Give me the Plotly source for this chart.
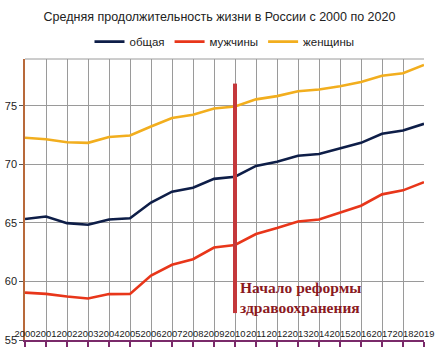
import plotly.graph_objects as go

years = list(range(2000, 2020))
overall = [65.34, 65.55, 64.98, 64.84, 65.29, 65.40, 66.74, 67.67, 68.00, 68.76,
           68.95, 69.87, 70.23, 70.74, 70.88, 71.36, 71.84, 72.62, 72.90, 73.46]
men = [59.05, 58.94, 58.72, 58.55, 58.92, 58.94, 60.51, 61.43, 61.90, 62.90,
       63.12, 64.05, 64.56, 65.12, 65.29, 65.90, 66.47, 67.44, 67.78, 68.48]
women = [72.28, 72.14, 71.89, 71.84, 72.34, 72.47, 73.23, 73.96, 74.24, 74.77,
         74.95, 75.55, 75.83, 76.25, 76.39, 76.67, 77.04, 77.57, 77.79, 78.49]
series_names = ["общая", "мужчины", "женщины"]
title_text = "Средняя продолжительность жизни в России с 2000 по 2020"
reform_year = 2010
reform_span = [57.3, 76.9]
reform_label = "<b>Начало реформы<br>здравоохранения</b>"
y_ticks = [55, 60, 65, 70, 75]

colors = ["#0e1e48", "#e8361a", "#f2ae1e"]

fig = go.Figure()
for name, vals, c in zip(series_names, [overall, men, women], colors):
    fig.add_trace(go.Scatter(x=years, y=vals, mode="lines", name=name,
                             line=dict(color=c, width=2.6)))

fig.add_shape(type="line", xref="x", yref="y", x0=reform_year, x1=reform_year,
              y0=reform_span[0], y1=reform_span[1],
              line=dict(color="#c4383b", width=4), layer="above")
fig.add_shape(type="line", xref="paper", yref="paper", x0=0, x1=1, y0=1, y1=1,
              line=dict(color="#9a9a9a", width=1))

fig.add_annotation(x=reform_year, y=58.6, xref="x", yref="y", text=reform_label,
                   showarrow=False, xanchor="left", yanchor="middle", xshift=3,
                   align="left",
                   font=dict(family="Liberation Serif", size=15.5, color="#8b1a1f"))

fig.update_layout(
    width=439, height=350,
    margin=dict(l=17, r=10, t=59, b=5),
    paper_bgcolor="white", plot_bgcolor="white",
    title=dict(text=title_text, x=0.5, xanchor="center", y=(350 - 17) / 350,
               yanchor="middle",
               font=dict(family="Liberation Sans", size=12.5, color="#222")),
    legend=dict(orientation="h", x=0.5, xanchor="center", y=1.062, yanchor="middle",
                font=dict(family="Liberation Sans", size=11.5, color="#222"),
                bgcolor="rgba(0,0,0,0)", itemwidth=30, tracegroupgap=0),
    showlegend=True,
)
fig.update_xaxes(range=[2000, 2019], tickmode="array", tickvals=years,
                 ticktext=[str(y) for y in years], tickangle=0,
                 showgrid=True, gridcolor="#9a9a9a", gridwidth=1,
                 showline=True, linecolor="#7a2a6a", linewidth=2,
                 ticks="outside", ticklen=5, tickcolor="#7a2a6a", tickwidth=1.5,
                 ticklabelposition="inside", ticklabeloverflow="allow",
                 tickfont=dict(family="Liberation Sans", size=9.4, color="#1a1a1a"),
                 zeroline=False)
fig.update_yaxes(range=[55, 79], tickmode="array", tickvals=y_ticks,
                 showgrid=True, gridcolor="#9a9a9a", gridwidth=1,
                 showline=True, linecolor="#b8693a", linewidth=1.5,
                 ticks="outside", ticklen=4, tickcolor="#555",
                 tickfont=dict(family="Liberation Sans", size=11, color="#222"),
                 zeroline=False)

fig.write_html("out.html")
